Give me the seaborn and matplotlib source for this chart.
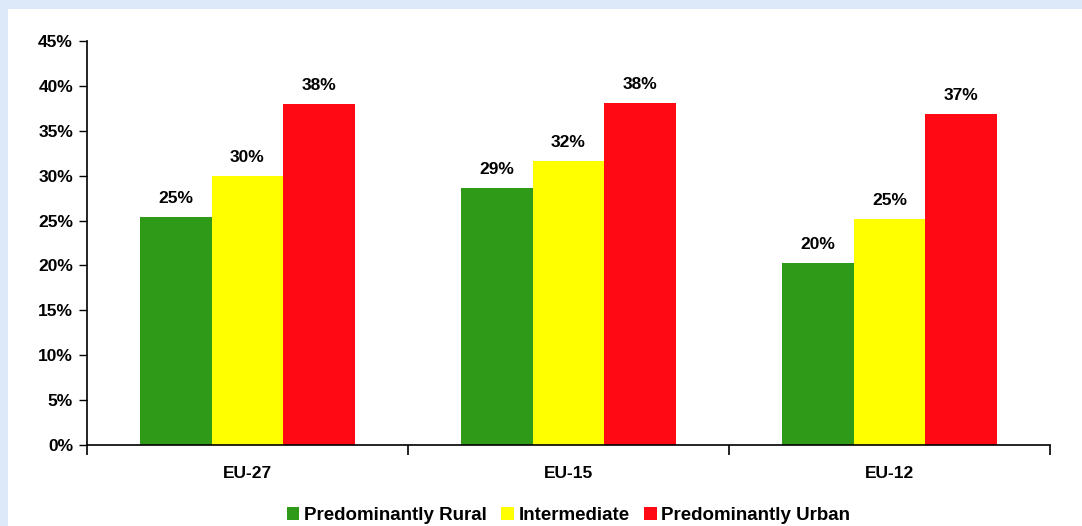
import pandas as pd
import matplotlib.pyplot as plt
import seaborn as sns
from matplotlib.patches import Rectangle

# data
regions = ['EU-27', 'EU-15', 'EU-12']
series = ['Predominantly Rural', 'Intermediate', 'Predominantly Urban']
rural = [25.4, 28.6, 20.3]
intermediate = [30.0, 31.6, 25.2]
urban = [38.0, 38.1, 36.9]
yticks = [0, 5, 10, 15, 20, 25, 30, 35, 40, 45]

df = pd.DataFrame({
    'Region': regions * 3,
    'Type': [series[0]] * 3 + [series[1]] * 3 + [series[2]] * 3,
    'Share': rural + intermediate + urban,
})

sns.set_style('white')
plt.rcParams['font.family'] = ['Liberation Sans', 'DejaVu Sans']
plt.rcParams['text.color'] = 'black'
plt.rcParams['xtick.color'] = 'black'
plt.rcParams['ytick.color'] = 'black'

fig = plt.figure(figsize=(10.82, 5.26), dpi=100)
fig.patch.set_facecolor('#dde9f8')
# white panel behind the chart
fig.patches.append(Rectangle((8 / 1082, 0), 1, (526 - 9) / 526, transform=fig.transFigure,
                             facecolor='white', edgecolor='none', zorder=-10))
ax = fig.add_axes([87 / 1082, 81 / 526, 963 / 1082, 404 / 526])
ax.set_facecolor('none')

palette = {series[0]: '#2f9a17', series[1]: '#ffff00', series[2]: '#ff0a14'}
sns.barplot(data=df, x='Region', y='Share', hue='Type', palette=palette,
            width=0.67, gap=0, saturation=1, linewidth=0, ax=ax)

for cont in ax.containers:
    ax.bar_label(cont, labels=[f'{v:.0f}%' for v in cont.datavalues],
                 padding=8, fontsize=12.5, fontweight='bold')

ax.set_xlim(-0.5, 2.5)
ax.set_ylim(0, 45)
ax.set_yticks(yticks)
ax.set_yticklabels([f'{t}%' for t in yticks], fontsize=12.5, fontweight='bold')
ax.tick_params(axis='y', direction='out', length=6, width=1, left=True, pad=4)

ax.set_xticks([-0.5, 0.5, 1.5, 2.5])
ax.set_xticklabels([])
ax.set_xticks([0, 1, 2], minor=True)
ax.set_xticklabels(regions, minor=True, fontsize=12.5, fontweight='bold')
ax.tick_params(axis='x', which='major', direction='out', length=7, width=1.2, bottom=True)
ax.tick_params(axis='x', which='minor', length=0, pad=15)

for s in ['top', 'right']:
    ax.spines[s].set_visible(False)
for s in ['left', 'bottom']:
    ax.spines[s].set_color('black')
    ax.spines[s].set_linewidth(1.2)

ax.set_xlabel('')
ax.set_ylabel('')
ax.legend(loc='lower center', bbox_to_anchor=(0.5, -0.2), ncol=3, frameon=False,
          borderaxespad=0, borderpad=0.1,
          handlelength=0.65, handleheight=0.65, handletextpad=0.25, columnspacing=0.8,
          prop={'size': 13.5, 'weight': 'bold'})

plt.savefig('out.png', dpi=100, facecolor=fig.get_facecolor())
